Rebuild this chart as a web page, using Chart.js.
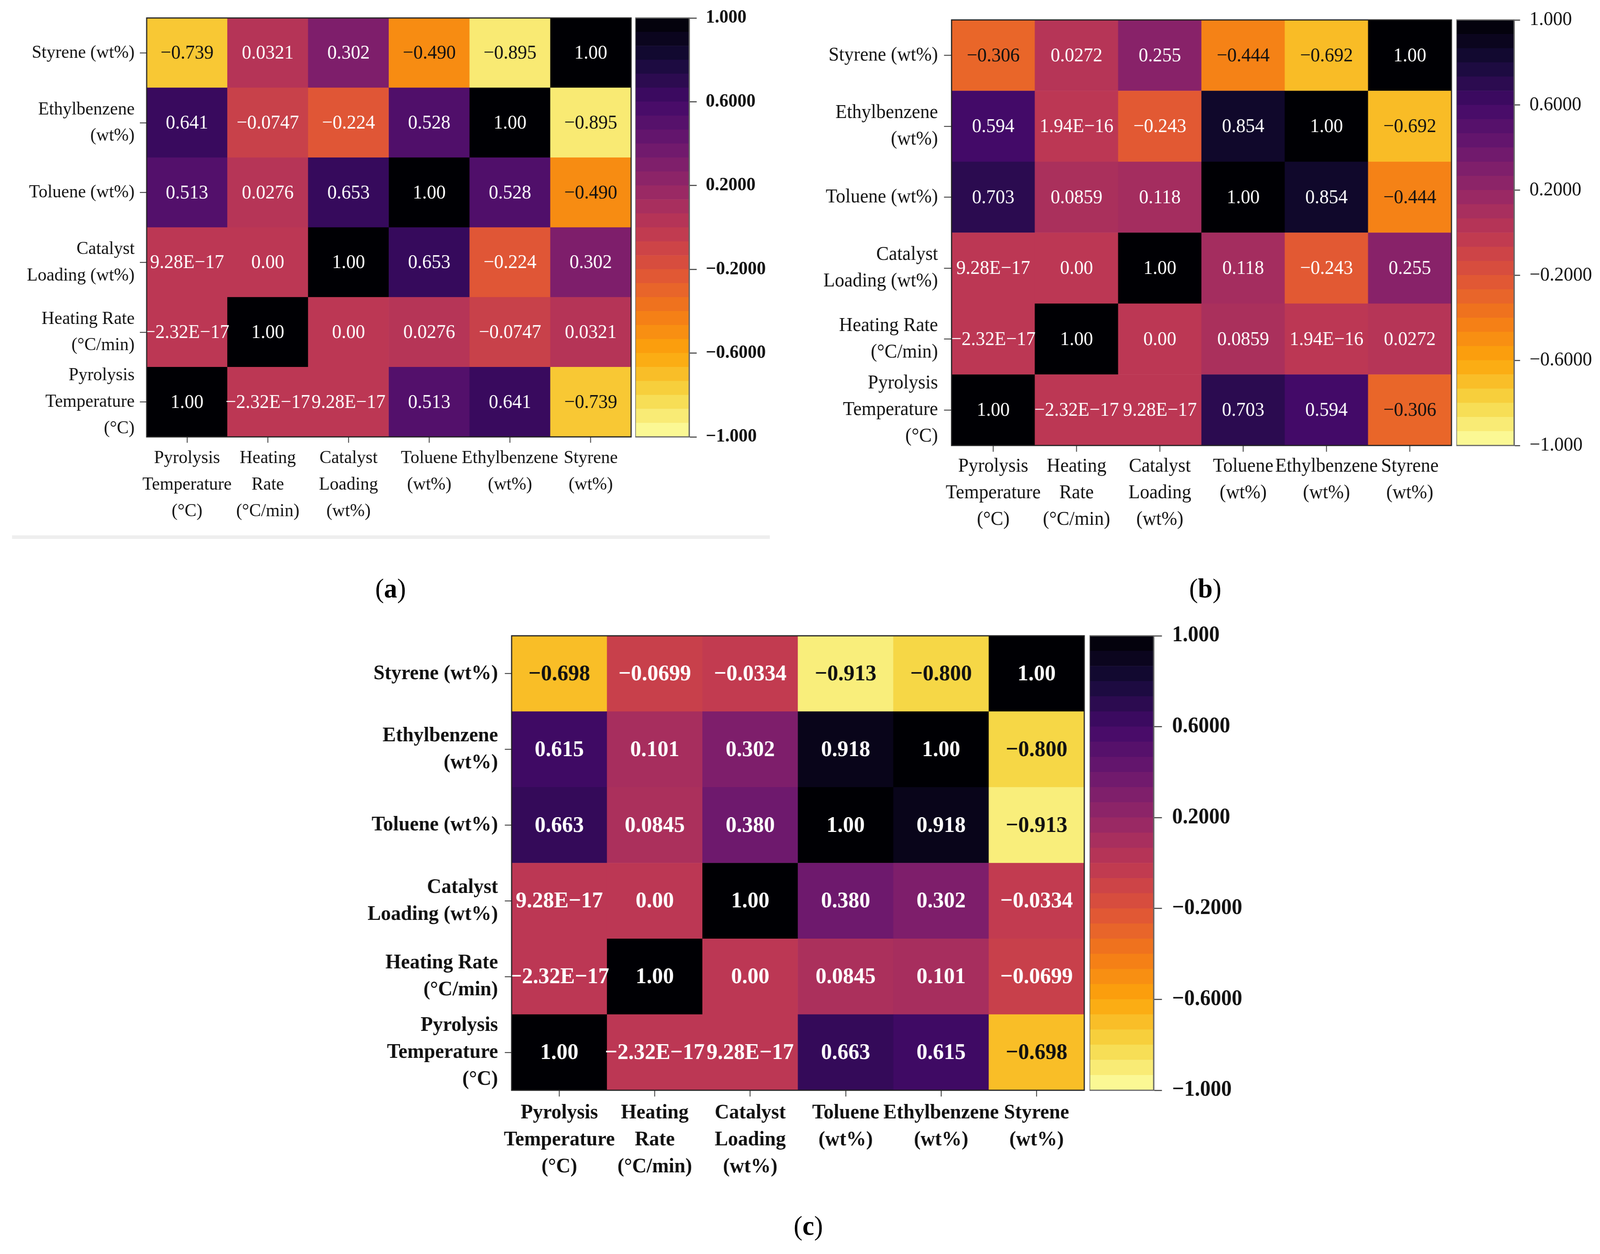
<!DOCTYPE html>
<html>
<head>
<meta charset="utf-8">
<script src="https://cdn.jsdelivr.net/npm/chart.js@4.4.1/dist/chart.umd.min.js"></script>
<style>
  html, body { margin: 0; background: #fff; overflow: hidden; }
  #page { position: relative; width: 4244px; height: 3209px; transform-origin: 0 0; font-family: "Liberation Serif", serif; }
  .box { position: absolute; }
  .tag { position: absolute; font-size: 70px; color: #000; transform: translate(-50%, -50%); }
  .rule { position: absolute; left: 32px; top: 1370px; width: 2010px; height: 9px; background: #eeeeee; }
</style>
</head>
<body>
<div id="page">
  <div class="box" id="hmA"><canvas></canvas></div>
  <div class="box" id="cbA"><canvas></canvas></div>
  <div class="box" id="hmB"><canvas></canvas></div>
  <div class="box" id="cbB"><canvas></canvas></div>
  <div class="box" id="hmC"><canvas></canvas></div>
  <div class="box" id="cbC"><canvas></canvas></div>
  <div class="rule"></div>
  <div class="tag" style="left:1036px;top:1506px">(<b>a</b>)</div>
  <div class="tag" style="left:3197px;top:1506px">(<b>b</b>)</div>
  <div class="tag" style="left:2144px;top:3137px">(<b>c</b>)</div>
</div>
<script>
// variables, bottom row / left column first
const xTickLines = [["Pyrolysis", "Temperature", "(°C)"], ["Heating", "Rate", "(°C/min)"], ["Catalyst", "Loading", "(wt%)"],
  ["Toluene", "(wt%)"], ["Ethylbenzene", "(wt%)"], ["Styrene", "(wt%)"]];
const yTickLines = [["Pyrolysis", "Temperature", "(°C)"], ["Heating Rate", "(°C/min)"], ["Catalyst", "Loading (wt%)"],
  ["Toluene (wt%)"], ["Ethylbenzene", "(wt%)"], ["Styrene (wt%)"]];

// correlation matrices, row order = yTickLines
const corrA = [
  [1.00, -2.32e-17, 9.28e-17, 0.513, 0.641, -0.739],
  [-2.32e-17, 1.00, 0.00, 0.0276, -0.0747, 0.0321],
  [9.28e-17, 0.00, 1.00, 0.653, -0.224, 0.302],
  [0.513, 0.0276, 0.653, 1.00, 0.528, -0.490],
  [0.641, -0.0747, -0.224, 0.528, 1.00, -0.895],
  [-0.739, 0.0321, 0.302, -0.490, -0.895, 1.00]
];
const corrB = [
  [1.00, -2.32e-17, 9.28e-17, 0.703, 0.594, -0.306],
  [-2.32e-17, 1.00, 0.00, 0.0859, 1.94e-16, 0.0272],
  [9.28e-17, 0.00, 1.00, 0.118, -0.243, 0.255],
  [0.703, 0.0859, 0.118, 1.00, 0.854, -0.444],
  [0.594, 1.94e-16, -0.243, 0.854, 1.00, -0.692],
  [-0.306, 0.0272, 0.255, -0.444, -0.692, 1.00]
];
const corrC = [
  [1.00, -2.32e-17, 9.28e-17, 0.663, 0.615, -0.698],
  [-2.32e-17, 1.00, 0.00, 0.0845, 0.101, -0.0699],
  [9.28e-17, 0.00, 1.00, 0.380, 0.302, -0.0334],
  [0.663, 0.0845, 0.380, 1.00, 0.918, -0.913],
  [0.615, 0.101, 0.302, 0.918, 1.00, -0.800],
  [-0.698, -0.0699, -0.0334, -0.913, -0.800, 1.00]
];

// colour bar
const cbTicks = [-1, -0.6, -0.2, 0.2, 0.6, 1];
const cbTickLabels = ["−1.000", "−0.6000", "−0.2000", "0.2000", "0.6000", "1.000"];
const cbLevels = 30;

// the browser may cap the viewport width, so squeeze the 4244px layout to fit it
const page = document.getElementById("page");
page.style.transform = `scale(${Math.min(1, window.innerWidth / 4244)}, 1)`;

const SERIF = '"Liberation Serif", "Times New Roman", serif';
const infernoStops = ["#000004", "#160b39", "#420a68", "#6a176e", "#932667", "#bc3754",
  "#dd513a", "#f37819", "#fca50a", "#f6d746", "#fcffa4"];

function hexRgb(h) {
  return [1, 3, 5].map(i => parseInt(h.slice(i, i + 2), 16));
}
function inferno(t) {
  t = Math.max(0, Math.min(1, t));
  const p = t * (infernoStops.length - 1);
  const i = Math.min(infernoStops.length - 2, Math.floor(p));
  const f = p - i;
  const a = hexRgb(infernoStops[i]), b = hexRgb(infernoStops[i + 1]);
  const c = a.map((v, k) => Math.round(v + (b[k] - v) * f));
  return `rgb(${c[0]},${c[1]},${c[2]})`;
}
// -1 -> pale yellow, +1 -> black
const valueColor = v => inferno((1 - v) / 2);

function fmt(v) {
  return v.toPrecision(3).replace("e", "E").replace(/-/g, "−");
}

function place(el, l, t, w, h) {
  Object.assign(el.style, { left: l + "px", top: t + "px", width: w + "px", height: h + "px" });
}

const cellLabels = {
  id: "cells",
  afterDatasetsDraw(chart, args, opts) {
    const { ctx, chartArea: a } = chart;
    ctx.save();
    ctx.font = opts.font;
    ctx.textAlign = "center";
    ctx.textBaseline = "middle";
    chart.data.datasets.forEach((ds, i) => {
      chart.getDatasetMeta(i).data.forEach((bar, j) => {
        const v = ds.values[j];
        const { x, y, base } = bar.getProps(["x", "y", "base"], true);
        ctx.fillStyle = v < -0.28 ? "#111" : "#fff";
        ctx.fillText(fmt(v), x, (y + base) / 2 + 2);
      });
    });
    ctx.strokeStyle = opts.frame;
    ctx.lineWidth = 3;
    ctx.strokeRect(a.left, a.top, a.right - a.left, a.bottom - a.top);
    ctx.restore();
  }
};

function heatmap(boxId, matrix, p) {
  const box = document.getElementById(boxId);
  const [L, T, R, B] = p.area;
  place(box, L - p.yw, T - 120, R - L + p.yw + 20, B - T + 120 + p.xh);
  const weight = p.bold ? "bold" : "normal";
  const tickFont = { family: SERIF, size: p.tick, weight, lineHeight: p.lh };
  const grid = len => ({ offset: false, drawOnChartArea: false, tickLength: len, tickColor: "#222", tickWidth: 2 });

  new Chart(box.querySelector("canvas"), {
    type: "bar",
    data: {
      labels: xTickLines,
      datasets: matrix.map((row, r) => ({
        data: row.map(() => [r, r + 1]),
        values: row,
        backgroundColor: row.map(valueColor),
        grouped: false,
        barPercentage: 1,
        categoryPercentage: 1,
        borderWidth: 0
      }))
    },
    options: {
      responsive: true,
      maintainAspectRatio: false,
      animation: false,
      layout: { padding: { top: 120, right: 20, left: 0, bottom: 0 } },
      plugins: {
        legend: { display: false },
        tooltip: { enabled: false },
        cells: { font: `${weight} ${p.cell}px ${SERIF}`, frame: "#222" }
      },
      scales: {
        x: {
          grid: grid(p.xTick),
          border: { display: true, color: "#222", width: 2 },
          ticks: { color: "#111", font: tickFont, padding: p.xPad, maxRotation: 0, autoSkip: false },
          afterFit: s => { s.height = p.xh; }
        },
        y: {
          min: 0,
          max: 6,
          grid: grid(p.yTick),
          border: { display: true, color: "#222", width: 2 },
          ticks: { color: "#111", font: tickFont, padding: p.yPad, autoSkip: false,
            callback: v => yTickLines[Math.floor(v)] },
          afterBuildTicks: s => { s.ticks = matrix.map((_, r) => ({ value: r + 0.5 })); },
          afterFit: s => { s.width = p.yw; }
        }
      }
    },
    plugins: [cellLabels]
  });
}

const barFrame = {
  id: "barFrame",
  afterDatasetsDraw(chart) {
    const { ctx, chartArea: a } = chart;
    ctx.save();
    ctx.strokeStyle = "#666";
    ctx.lineWidth = 3;
    ctx.strokeRect(a.left, a.top, a.right - a.left, a.bottom - a.top);
    ctx.restore();
  }
};

function colorbar(boxId, p) {
  const box = document.getElementById(boxId);
  const [L, T, R, B] = p.area;
  place(box, L, T - 120, R - L + p.aw, B - T + 240);
  const step = 2 / cbLevels;
  const bands = Array.from({ length: cbLevels }, (_, k) => [-1 + k * step, -1 + (k + 1) * step]);

  new Chart(box.querySelector("canvas"), {
    type: "bar",
    data: {
      labels: [""],
      datasets: bands.map(b => ({
        data: [b],
        backgroundColor: valueColor((b[0] + b[1]) / 2),
        grouped: false,
        barPercentage: 1,
        categoryPercentage: 1,
        borderWidth: 0
      }))
    },
    options: {
      responsive: true,
      maintainAspectRatio: false,
      animation: false,
      layout: { padding: { top: 120, bottom: 120, left: 0, right: 0 } },
      plugins: { legend: { display: false }, tooltip: { enabled: false } },
      scales: {
        x: { display: false },
        y: {
          position: "right",
          min: -1,
          max: 1,
          grid: { drawOnChartArea: false, tickLength: p.tickLen, tickColor: "#555", tickWidth: 3 },
          border: { display: true, color: "#666", width: 3 },
          ticks: { color: "#111", padding: p.pad, autoSkip: false,
            font: { family: SERIF, size: p.size, weight: p.bold ? "bold" : "normal", lineHeight: 1 },
            callback: (v, i) => cbTickLabels[i] },
          afterBuildTicks: s => { s.ticks = cbTicks.map(value => ({ value })); },
          afterFit: s => { s.width = p.aw; }
        }
      }
    },
    plugins: [barFrame]
  });
}

heatmap("hmA", corrA, { area: [389, 46, 1674, 1118], yw: 389, xh: 240, tick: 47, lh: 1.44, cell: 50, bold: false,
  yTick: 18, yPad: 14, xTick: 15, xPad: 6 });
colorbar("cbA", { area: [1685, 46, 1828, 1118], aw: 250, tickLen: 20, pad: 24, size: 48, bold: true });

heatmap("hmB", corrB, { area: [2524, 51, 3850, 1140], yw: 424, xh: 240, tick: 50, lh: 1.36, cell: 50, bold: false,
  yTick: 20, yPad: 16, xTick: 16, xPad: 4 });
colorbar("cbB", { area: [3863, 51, 4016, 1140], aw: 228, tickLen: 16, pad: 25, size: 50, bold: false });

heatmap("hmC", corrC, { area: [1357, 1627, 2876, 2790], yw: 457, xh: 260, tick: 53, lh: 1.3, cell: 58, bold: true,
  yTick: 18, yPad: 18, xTick: 16, xPad: 8 });
colorbar("cbC", { area: [2890, 1627, 3060, 2790], aw: 250, tickLen: 22, pad: 27, size: 56, bold: true });
</script>
</body>
</html>
